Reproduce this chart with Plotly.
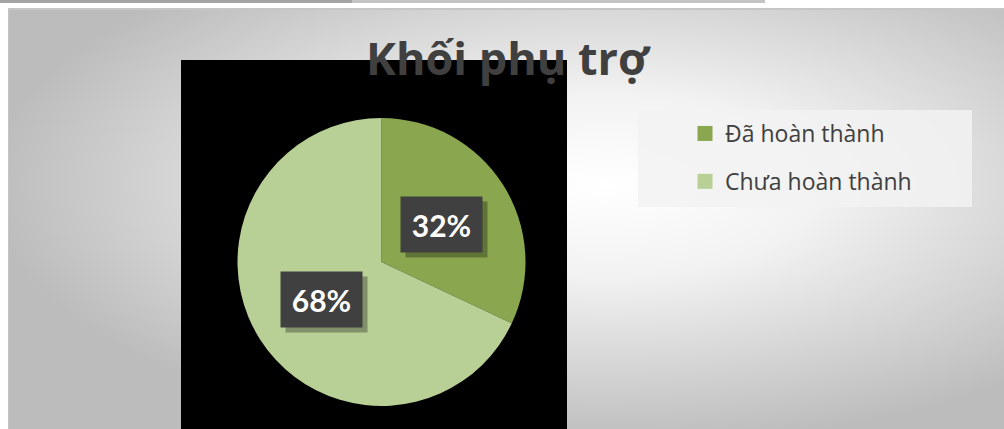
import math, base64
import plotly.graph_objects as go

# ---- data ----
categories = ["Đã hoàn thành", "Chưa hoàn thành"]
values = [32, 68]
colors = ["#8aa64f", "#b8cf96"]
title_text = "Khối phụ trợ"

W, H = 1004, 429
# pie geometry (pixels)
CX, CY, R = 381.5, 262, 144

fig = go.Figure()

fig.add_trace(go.Pie(
    labels=categories, values=values, sort=False, direction="clockwise", rotation=0,
    marker=dict(colors=colors, line=dict(width=0)),
    textinfo="none", hoverinfo="label+percent", showlegend=False,
    domain=dict(x=[(CX - R) / W, (CX + R) / W], y=[(H - CY - R) / H, (H - CY + R) / H]),
))

# legend proxies
for i, (c, col) in enumerate(zip(categories, colors)):
    fig.add_trace(go.Scatter(
        x=[None], y=[None], mode="markers", name=c, legendgroup=f"g{i}",
        marker=dict(symbol="square", size=15, color=col, line=dict(width=0)),
        showlegend=True,
    ))

# background gradient via SVG
svg = ("<svg xmlns='http://www.w3.org/2000/svg' width='996' height='421'>"
       "<defs><radialGradient id='g' cx='0.6' cy='0.42' r='0.62'>"
       "<stop offset='0' stop-color='#ffffff'/><stop offset='0.35' stop-color='#f2f2f2'/>"
       "<stop offset='1' stop-color='#bcbcbc'/></radialGradient></defs>"
       "<rect width='996' height='421' fill='url(#g)'/></svg>")
uri = "data:image/svg+xml;base64," + base64.b64encode(svg.encode()).decode()
fig.add_layout_image(dict(source=uri, xref="paper", yref="paper", x=8 / W, y=1 - 8 / H,
                          sizex=996 / W, sizey=421 / H, xanchor="left", yanchor="top",
                          sizing="stretch", layer="below"))

shapes = [
    # top strip
    dict(type="rect", xref="paper", yref="paper", x0=0, x1=352 / W, y0=1 - 3 / H, y1=1,
         fillcolor="#a4a4a4", line=dict(width=0), layer="below"),
    dict(type="rect", xref="paper", yref="paper", x0=352 / W, x1=765 / W, y0=1 - 3 / H, y1=1,
         fillcolor="#c4c4c4", line=dict(width=0), layer="below"),
    # panel borders
    dict(type="rect", xref="paper", yref="paper", x0=8 / W, x1=1, y0=1 - 10 / H, y1=1 - 8 / H,
         fillcolor="#c6c6c6", line=dict(width=0), layer="below"),
    dict(type="rect", xref="paper", yref="paper", x0=8 / W, x1=9 / W, y0=0, y1=1 - 8 / H,
         fillcolor="#c4c4c4", line=dict(width=0), layer="below"),
    # black plot area
    dict(type="rect", xref="paper", yref="paper", x0=181 / W, x1=567 / W, y0=0, y1=1 - 60 / H,
         fillcolor="#000000", line=dict(width=0), layer="below"),
    # legend box
    dict(type="rect", xref="paper", yref="paper", x0=638 / W, x1=972 / W, y0=1 - 207 / H, y1=1 - 110 / H,
         fillcolor="rgba(242,242,242,0.85)", line=dict(width=0), layer="below"),
]

# data labels
annotations = []
total = sum(values)
cum = 0
for v in values:
    mid = (cum + v / 2) / total * 2 * math.pi
    cum += v
    px = CX + 0.49 * R * math.sin(mid)
    py = CY - 0.49 * R * math.cos(mid)
    xp, yp = px / W, 1 - py / H
    annotations.append(dict(x=xp, y=yp, xref="paper", yref="paper", text=" ", showarrow=False,
                            xanchor="center", yanchor="middle",
                            width=79, height=53, xshift=5, yshift=-5, bgcolor="rgba(0,0,0,0.3)"))
    annotations.append(dict(x=xp, y=yp, xref="paper", yref="paper",
                            text=f"<b>{round(v / total * 100)}%</b>", showarrow=False,
                            xanchor="center", yanchor="middle",
                            width=79, height=53, bgcolor="#404040",
                            font=dict(family="Lato", size=30, color="#ffffff")))

annotations.append(dict(x=508 / W, y=1 - 57 / H, xref="paper", yref="paper", text=f"<b>{title_text}</b>",
                        showarrow=False, xanchor="center", yanchor="middle",
                        font=dict(family="Open Sans", size=45, color="#404040")))

fig.update_layout(
    width=W, height=H, margin=dict(l=0, r=0, t=0, b=0),
    paper_bgcolor="#ffffff", plot_bgcolor="rgba(0,0,0,0)",
    xaxis=dict(visible=False), yaxis=dict(visible=False),
    shapes=shapes, annotations=annotations,
    legend=dict(x=685 / W, y=1 - 112 / H, xanchor="left", yanchor="top", bgcolor="rgba(0,0,0,0)",
                font=dict(family="Open Sans", size=23, color="#404040"), tracegroupgap=15,
                itemsizing="trace"),
)

fig.write_html("out.html", config={"displayModeBar": False},
               post_script="document.body.style.margin='0';")
